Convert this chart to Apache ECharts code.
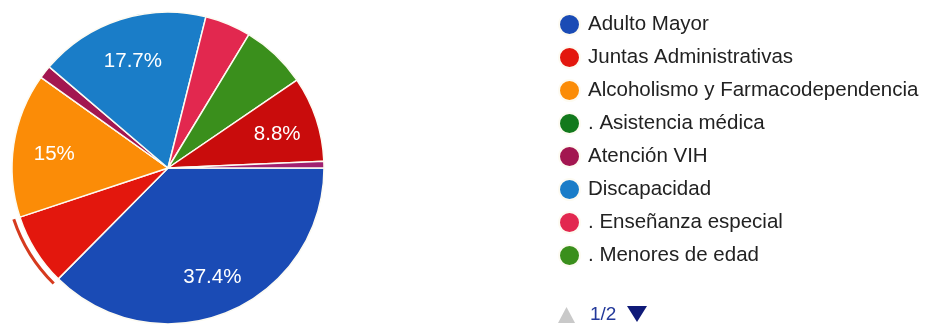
<!DOCTYPE html>
<html>
<head>
<meta charset="utf-8">
<script src="https://cdn.jsdelivr.net/npm/echarts@6/dist/echarts.min.js"></script>
<style>
  html, body { margin: 0; padding: 0; background: #fff; }
  #chart { width: 930px; height: 324px; }
</style>
</head>
<body>
<div id="chart"></div>
<script>
// Programas de atención: número de respuestas por categoría
const categories = [
  'Adulto Mayor',
  'Juntas Administrativas',
  'Alcoholismo y Farmacodependencia',
  '. Asistencia médica',
  'Atención VIH',
  'Discapacidad',
  '. Enseñanza especial',
  '. Menores de edad',
  'Salud mental',
  'Otros'
];
const responses = [55, 11, 22, 0, 2, 26, 7, 10, 13, 1];
const sliceColors = [
  '#1a4bb5', '#e3170d', '#fb8c07', '#12791c', '#a31650',
  '#1a7dc8', '#e2284f', '#3a8f1c', '#c90c0c', '#a02070'
];
// categories listed on the first legend page
const legendPageOne = categories.slice(0, 8);
const legendPageText = '1/2';
// category whose slice is outlined
const highlighted = 'Juntas Administrativas';

const total = responses.reduce((a, b) => a + b, 0);
const pctText = v => {
  const p = (v / total * 100).toFixed(1);
  return (p.endsWith('.0') ? p.slice(0, -2) : p) + '%';
};

const pieData = categories.map((name, i) => ({
  name, value: responses[i], itemStyle: { color: sliceColors[i] }
}));

const FONT = 'Arial, "Liberation Sans", sans-serif';
const CENTER = [168, 168];
const R = 156;

const chart = echarts.init(document.getElementById('chart'), null, { renderer: 'canvas' });
chart.setOption({
  animation: false,
  backgroundColor: '#fff',
  legend: {
    orient: 'vertical',
    left: 553,
    top: 8,
    icon: 'circle',
    itemWidth: 27,
    itemHeight: 21,
    itemGap: 10,
    selectedMode: false,
    data: legendPageOne,
    textStyle: { fontFamily: FONT, fontSize: 20.5, color: '#222' }
  },
  series: [
    {
      // slices
      type: 'pie',
      center: CENTER,
      radius: [0, R],
      startAngle: 0,
      clockwise: true,
      silent: true,
      label: { show: false },
      labelLine: { show: false },
      itemStyle: { borderColor: '#fdfbf2', borderWidth: 1.5 },
      data: pieData
    },
    {
      // percentage labels placed toward the rim
      type: 'pie',
      center: CENTER,
      radius: [68, R],
      startAngle: 0,
      clockwise: true,
      silent: true,
      itemStyle: { color: 'rgba(0,0,0,0)' },
      label: {
        show: true,
        position: 'inside',
        offset: [0, 3],
        fontFamily: FONT,
        fontSize: 20.5,
        color: '#fff',
        formatter: p => (p.value / total >= 0.08 ? pctText(p.value) : '')
      },
      labelLine: { show: false },
      data: categories.map((name, i) => ({ name, value: responses[i] }))
    },
    {
      // outline arc around the highlighted slice
      type: 'pie',
      center: CENTER,
      radius: [161, 164],
      startAngle: 0,
      clockwise: true,
      silent: true,
      label: { show: false },
      labelLine: { show: false },
      data: categories.map((name, i) => ({
        name, value: responses[i],
        itemStyle: { color: name === highlighted ? '#d63a1e' : 'rgba(0,0,0,0)' }
      }))
    }
  ],
  graphic: [
    {
      type: 'polygon',
      shape: { points: [[558, 323], [575, 323], [566.5, 307]] },
      style: { fill: '#c9c9c9' }
    },
    {
      type: 'text',
      left: 590,
      top: 305,
      style: { text: legendPageText, fontFamily: FONT, fontSize: 19, fill: '#23399a' }
    },
    {
      type: 'polygon',
      shape: { points: [[627, 306], [647, 306], [637, 322]] },
      style: { fill: '#0f1a78' }
    }
  ]
});
</script>
</body>
</html>
